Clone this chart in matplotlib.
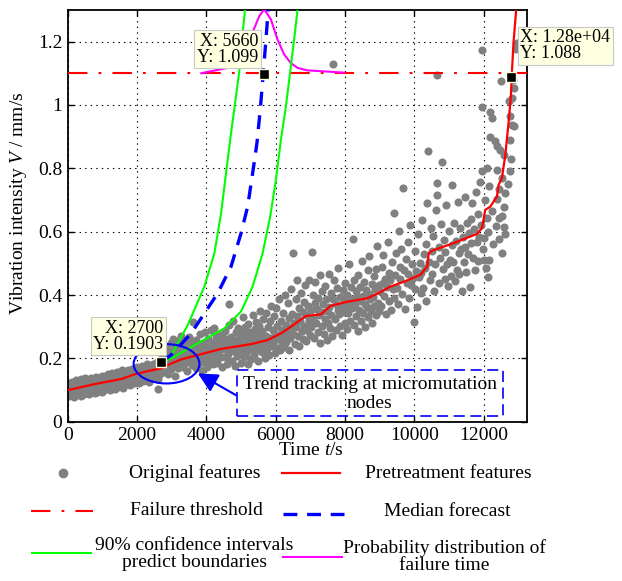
import matplotlib
matplotlib.use('Agg')
import matplotlib.pyplot as plt
from matplotlib.patches import Ellipse, Rectangle
from matplotlib.lines import Line2D
from matplotlib.ticker import FormatStrFormatter

plt.rcParams['font.family'] = ['Liberation Serif', 'DejaVu Serif']
plt.rcParams['font.size'] = 14
plt.rcParams['mathtext.fontset'] = 'custom'
plt.rcParams['mathtext.rm'] = 'Liberation Serif'
plt.rcParams['mathtext.it'] = 'Liberation Serif:italic'
plt.rcParams['lines.scale_dashes'] = False

########## data
# original features, (time, vibration) pairs
orig_a = [(8,.101),(24,.083),(47,.122),(66,.094),(88,.112),(109,.127),(131,.089),(148,.107),(170,.078),(192,.118),
          (205,.097),(226,.131),(251,.086),(268,.114),(287,.103),(311,.122),(329,.092),(352,.109),(374,.134),(395,.081),
          (403,.116),(422,.098),(449,.125),(467,.088),(486,.137),(512,.104),(533,.121),(549,.093),(571,.131),(590,.111),
          (604,.087),(627,.126),(645,.108),(662,.139),(689,.097),(710,.118),(728,.101),(753,.134),(771,.092),(794,.124),
          (806,.142),(821,.109),(847,.095),(866,.129),(883,.116),(912,.103),(934,.137),(951,.121),(973,.094),(989,.146),
          (1007,.112),(1029,.131),(1044,.099),(1068,.143),(1092,.124),(1103,.137),(1127,.106),(1146,.151),(1163,.118),
          (1188,.128),(1211,.099),(1232,.141),(1254,.122),(1271,.153),(1293,.113),(1306,.134),(1324,.117),(1349,.147),
          (1368,.104),(1386,.138),(1409,.126),(1430,.158),(1447,.111),(1469,.143),(1491,.131),(1503,.149),(1522,.119),
          (1546,.137),(1565,.162),(1587,.108),(1612,.141),(1634,.127),(1651,.155),(1674,.118),(1695,.146),(1708,.132),
          (1729,.164),(1745,.123),(1767,.151),(1789,.139),(1803,.117),(1825,.156),(1848,.142),(1866,.168),(1887,.129),
          (1911,.147),(1933,.124),(1954,.161),(1972,.138),(1994,.172),(2006,.133),(2028,.155),(2047,.121),(2069,.169),
          (2088,.146),(2112,.161),(2131,.139),(2153,.177),(2171,.128),(2196,.152),(2207,.144),(2226,.171),(2249,.133),
          (2268,.158),(2285,.182),(2309,.149),(2331,.126),(2352,.166),(2374,.141),(2393,.176),(2406,.158),(2427,.137),
          (2448,.184),(2466,.151),(2489,.169),(2511,.143),(2534,.176),(2552,.161),(2571,.189),(2594,.134),(2603,.105),
          (2626,.171),(2647,.152),(2665,.193),(2688,.164)]

orig_b = [(2714,.181),(2733,.207),(2756,.158),(2775,.226),(2792,.193),(2808,.214),(2831,.172),(2849,.239),(2867,.196),
          (2889,.151),(2903,.227),(2924,.188),(2946,.209),(2968,.166),(2985,.248),(3012,.199),(3031,.262),(3052,.176),
          (3071,.218),(3094,.143),(3106,.234),(3127,.191),(3145,.256),(3168,.207),(3187,.169),(3209,.221),(3228,.183),
          (3254,.271),(3272,.198),(3291,.242),(3314,.174),(3333,.229),(3351,.203),(3369,.257),(3392,.186),(3405,.247),
          (3426,.212),(3448,.161),(3467,.233),(3488,.195),(3511,.268),(3530,.204),(3553,.226),(3575,.179),(3593,.251),
          (3609,.316),(3628,.193),(3647,.238),(3669,.216),(3691,.171),(3713,.259),(3734,.207),(3752,.184),(3771,.241),
          (3795,.223),(3802,.197),(3826,.276),(3847,.232),(3865,.165),(3884,.214),(3913,.249),(3932,.188),(3953,.226),
          (3974,.283),(3996,.205),(4008,.237),(4027,.172),(4049,.261),(4066,.219),(4089,.196),(4104,.228),(4125,.291),
          (4148,.209),(4167,.248),(4186,.181),(4211,.296),(4229,.235),(4250,.199),(4273,.267),(4294,.221),(4306,.186),
          (4328,.253),(4347,.214),(4369,.238),(4391,.275),(4409,.203),(4430,.246),(4452,.172),(4471,.229),(4493,.264)]

orig_c = [(4512,.238),(4531,.287),(4553,.205),(4574,.262),(4592,.181),(4606,.249),(4627,.213),(4648,.305),(4665,.372),
          (4688,.231),(4709,.268),(4728,.192),(4751,.244),(4772,.319),(4790,.224),(4813,.257),(4834,.176),(4852,.283),
          (4871,.236),(4893,.209),(4905,.296),(4926,.248),(4947,.219),(4969,.274),(4988,.187),(5011,.261),(5033,.232),
          (5052,.331),(5074,.206),(5091,.279),(5108,.243),(5129,.298),(5151,.217),(5173,.265),(5194,.182),(5203,.309),
          (5225,.251),(5246,.229),(5268,.284),(5289,.198),(5311,.269),(5334,.238),(5352,.338),(5370,.211),(5393,.292),
          (5409,.256),(5427,.314),(5449,.226),(5471,.277),(5488,.193),(5512,.302),(5533,.245),(5554,.351),(5572,.267),
          (5597,.219),(5606,.285),(5628,.236),(5647,.326),(5669,.258),(5688,.201),(5713,.343),(5731,.272),(5756,.229),
          (5774,.298),(5791,.251),(5809,.211),(5826,.317),(5848,.264),(5869,.366),(5887,.238),(5911,.289),(5933,.247),
          (5952,.334),(5971,.216),(5994,.276),(6005,.358),(6027,.261),(6049,.302),(6068,.232),(6089,.387),(6113,.274),
          (6132,.226),(6154,.319),(6176,.253),(6195,.291),(6208,.342),(6231,.268),(6248,.237),(6267,.401),(6289,.306),
          (6311,.251),(6330,.287),(6352,.376),(6373,.228),(6394,.329),(6405,.296),(6426,.263),(6448,.418),(6487,.532),
          (6471,.341),(6512,.276),(6530,.312),(6553,.246),(6574,.387),(6596,.298),(6607,.448),(6625,.334),(6647,.271),
          (6669,.359),(6688,.239),(6714,.318),(6735,.406),(6753,.287),(6776,.346),(6793,.262),(6807,.377),(6829,.302),
          (6851,.431),(6872,.254),(6890,.337),(6912,.289),(6931,.364),(6954,.318),(6973,.447),(6996,.273)]

orig_d = [(7008,.352),(7029,.298),(7063,.535),(7071,.401),(7092,.327),(7105,.263),(7127,.376),(7149,.441),(7168,.311),
          (7186,.357),(7211,.392),(7230,.284),(7252,.336),(7274,.463),(7293,.249),(7307,.345),(7326,.412),(7348,.302),
          (7369,.371),(7391,.276),(7413,.428),(7432,.325),(7454,.386),(7471,.258),(7495,.351),(7509,.311),(7527,.468),
          (7548,.362),(7570,.297),(7592,.405),(7604,.338),(7626,.271),(7655,1.130),(7667,.387),(7689,.446),(7711,.323),
          (7733,.372),(7750,.291),(7772,.421),(7794,.354),(7806,.486),(7828,.339),(7849,.302),(7871,.395),(7890,.361),
          (7913,.274),(7932,.417),(7953,.348),(7975,.383),(7996,.312),(8004,.437),(8026,.366),(8049,.293),(8068,.401),
          (8087,.342),(8109,.375),(8130,.498),(8151,.318),(8173,.427),(8192,.359),(8214,.386),(8242,.576),(8257,.305),
          (8275,.449),(8294,.371),(8306,.334),(8327,.412),(8348,.396),(8371,.287),(8390,.463),(8413,.352),(8434,.425),
          (8451,.381),(8472,.317),(8494,.507),(8508,.398),(8529,.343),(8547,.441),(8568,.372),(8591,.299),(8611,.417),
          (8632,.362),(8654,.478),(8673,.331),(8695,.404),(8702,.523),(8725,.388),(8746,.351),(8767,.436),(8789,.312),
          (8813,.394),(8831,.459),(8852,.367),(8874,.418),(8893,.336),(8909,.482),(8933,.555),(8948,.376),(8971,.431),
          (8992,.349)]

orig_e = [(9014,.412),(9038,.367),(9063,.488),(9087,.439),(9112,.526),(9136,.398),(9161,.452),(9185,.341),(9209,.427),
          (9233,.568),(9258,.381),(9284,.471),(9308,.446),(9331,.353),(9357,.503),(9382,.418),(9411,.658),(9428,.392),
          (9455,.462),(9478,.532),(9506,.423),(9529,.371),(9553,.602),(9579,.487),(9602,.451),(9627,.546),(9651,.402),
          (9670,.737),(9711,.479),(9733,.357),(9758,.513),(9782,.438),(9806,.569),(9831,.466),(9852,.392),(9879,.621),
          (9903,.431),(9927,.497),(9955,.453),(9987,.316),(10012,.538),(10035,.418),(10061,.476),(10086,.362),
          (10109,.594),(10133,.457),(10158,.502),(10182,.406),(10207,.471),(10231,.638),(10256,.423),(10279,.529),
          (10304,.486),(10328,.381),(10352,.562),(10372,.690),(10400,.855),(10426,.503),(10451,.447),(10477,.611),
          (10502,.538),(10527,.468),(10553,.586),(10576,.412),(10604,.497),(10628,.668),(10660,.753),(10660,.716),
          (10701,.552),(10727,.439),(10752,.517),(10778,.623),(10804,.820),(10826,.481),(10853,.574),(10876,.452),
          (10902,.536),(10925,.683),(10951,.497),(10976,.428),(11003,.602),(11027,.512),(11054,.461),(11079,.558),
          (11091,.748),(11124,.503),(11148,.627),(11173,.443),(11206,.571),(11229,.478),(11253,.695),(11278,.532),
          (11301,.467),(11325,.612),(11351,.545),(11376,.412),(11404,.584),(11428,.503),(11452,.708),(11477,.551),
          (11502,.472),(11526,.627),(11551,.531),(11577,.596),(11603,.425),(11625,.563),(11650,.641),(11667,.690),
          (11706,.518),(11729,.608),(11755,.478),(11781,.724),(11802,.569),(11828,.655),(11852,.507),(11877,.582),
          (11906,.758),(11930,.621),(11955,.995),(11955,1.172),(11960,.790),(11984,.546),(10660,1.095)]

orig_f = [(12012,.581),(12020,.512),(12038,.700),(12063,.486),(12088,.643),(12098,.800),(12120,.458),(12130,.598),
          (12146,.743),(12160,.512),(12194,.979),(12194,.900),(12243,.958),(12250,.664),(12270,.561),(12338,.885),
          (12387,.795),(12360,.617),(12380,.702),(12387,.869),(12482,.858),(12450,.735),(12460,.642),(12440,.576),
          (12510,1.074),(12578,.679),(12531,.532),(12531,.648),(12540,.769),(12578,.616),(12626,.722),(12600,.842),
          (12610,.593),(12741,1.014),(12770,.890),(12700,.752),(12770,.790),(12760,.965),(12818,1.022),(12818,.937),
          (12800,.830),(12866,1.053),(12865,1.080),(12866,.932),(12962,1.196),(12950,1.178)]

# pretreatment features (red curve)
t_pre = [0, 777, 1545, 1928, 2314, 2697, 2985, 3272, 3655, 4424, 5287, 5767, 6055, 6151, 6439, 6870,
         7301, 7589, 8070, 8645, 8933, 9316, 9700, 10180, 10372, 10420, 10516, 11138, 11811, 11955, 12050,
         12194, 12387, 12435, 12531, 12626, 12722, 12790, 12818, 12865, 12942, 12960]
v_pre = [0.100, 0.119, 0.135, 0.150, 0.160, 0.169, 0.184, 0.197, 0.208, 0.230, 0.245, 0.258, 0.274, 0.279,
         0.300, 0.334, 0.339, 0.366, 0.379, 0.390, 0.404, 0.427, 0.442, 0.464, 0.490, 0.532, 0.540, 0.564,
         0.593, 0.611, 0.669, 0.679, 0.711, 0.748, 0.769, 0.840, 0.943, 1.027, 1.101, 1.196, 1.300, 1.330]

threshold = 1.1

# median forecast
t_med = [2700, 2985, 3560, 4329, 4712, 5000, 5191, 5336, 5460, 5555, 5643, 5719, 5785, 5800]
v_med = [0.190, 0.211, 0.279, 0.406, 0.490, 0.595, 0.679, 0.785, 0.880, 0.985, 1.101, 1.206, 1.300, 1.330]

# 90% confidence bounds
t_up = [2700, 2937, 3465, 3943, 4231, 4424, 4568, 4712, 4855, 4950, 5048, 5114, 5125]
v_up = [0.190, 0.200, 0.306, 0.427, 0.532, 0.658, 0.785, 0.911, 1.027, 1.106, 1.227, 1.300, 1.330]
t_low = [2700, 2985, 3753, 4519, 5000, 5336, 5624, 5843, 6007, 6151, 6295, 6439, 6554, 6631, 6650]
v_low = [0.190, 0.200, 0.248, 0.295, 0.348, 0.427, 0.532, 0.648, 0.764, 0.890, 0.995, 1.122, 1.227, 1.300, 1.330]

# probability distribution of failure time (drawn on the threshold)
t_pdf = [3853, 4616, 5000, 5287, 5527, 5670, 5862, 6055, 6247, 6439, 6631, 6919, 7397, 7972]
v_pdf = [1.100, 1.117, 1.159, 1.217, 1.280, 1.302, 1.270, 1.206, 1.159, 1.132, 1.117, 1.109, 1.106, 1.102]

# data tips
tips = [(5660, 1.099, 'X: 5660\nY: 1.099'),
        (2700, 0.1903, 'X: 2700\nY: 0.1903'),
        (12800, 1.088, 'X: 1.28e+04\nY: 1.088')]

gray = '#808080'
red = '#ff0000'
blue = '#0000ff'
green = '#00ff00'
magenta = '#ff00ff'

########## Plotting section
fig = plt.figure(figsize=(6.22, 5.81), dpi=100)
ax = fig.add_axes([0.109, 0.274, 0.738, 0.709])

pts = orig_a + orig_b + orig_c + orig_d + orig_e + orig_f
ax.scatter([p[0] for p in pts], [p[1] for p in pts], s=34, color=gray, linewidths=0, zorder=2)

ax.plot(t_pre, v_pre, color=red, lw=1.6, zorder=3)
ax.axhline(threshold, color=red, lw=1.5, dashes=(14, 8, 2, 8), zorder=3)
ax.plot(t_pdf, v_pdf, color=magenta, lw=1.5, zorder=3)
ax.plot(t_up, v_up, color=green, lw=1.5, zorder=4)
ax.plot(t_low, v_low, color=green, lw=1.5, zorder=4)
ax.plot(t_med, v_med, color=blue, lw=2.4, dashes=(10, 7), zorder=5)

for x, y, s in tips:
    ax.plot(x, y, 's', color='black', mec='#ffffd8', mew=1.0, ms=6.5, zorder=7, clip_on=False)
offs = [((-6, 8), 'right'), ((2, 9), 'right'), ((9, 15), 'left')]
for (x, y, s), (o, ha) in zip(tips, offs):
    ax.annotate(s, xy=(x, y), xytext=o, textcoords='offset pixels', ha=ha, va='bottom', fontsize=13,
                linespacing=0.9, annotation_clip=False, zorder=8,
                bbox=dict(boxstyle='square,pad=0.15', fc='#ffffe1', ec='#c8c8c8', lw=0.8))

# micromutation annotation
ax.add_patch(Ellipse((2850, 0.183), 1900, 0.124, fill=False, ec=blue, lw=1.5, zorder=6))
ax.annotate('', xy=(3753, 0.153), xytext=(4855, 0.084),
            arrowprops=dict(arrowstyle='-|>,head_length=0.8,head_width=0.4', color=blue, lw=1.5,
                            mutation_scale=15, shrinkA=0, shrinkB=0), zorder=6)
ax.add_patch(Rectangle((4884, 0.018), 12560 - 4884, 0.163 - 0.018, fill=False, ec=blue, lw=1.2,
                       ls=(0, (8, 4)), zorder=6))
ax.text(8721, 0.0875, 'Trend tracking at micromutation\nnodes', ha='center', va='center',
        linespacing=1.15, zorder=6)

ax.set_xlim(0, 13250)
ax.set_ylim(0, 1.3)
ax.set_xticks([0, 2000, 4000, 6000, 8000, 10000, 12000])
ax.set_yticks([0, 0.2, 0.4, 0.6, 0.8, 1.0, 1.2])
ax.yaxis.set_major_formatter(FormatStrFormatter('%g'))
ax.tick_params(direction='in', top=True, right=True, length=4, width=1, pad=4)
ax.grid(True, color='black', lw=0.8, ls=(0, (1, 3)))
for sp in ax.spines.values():
    sp.set_linewidth(1.3)

ax.set_xlabel(r'Time $t$/s')
ax.xaxis.set_label_coords(0.53, -0.05)
ax.set_ylabel(r'Vibration intensity $V$ / mm/s')
ax.yaxis.set_label_coords(-0.085, 0.53)

# legend, laid out like the MATLAB one (centred text)
def fx(px):
    return px / 622.0

def fy(py):
    return 1 - py / 581.0

fig.add_artist(Line2D([fx(62.7)], [fy(473.3)], marker='o', ms=6, color=gray, ls='none'))
fig.text(fx(195), fy(473.3), 'Original features', ha='center', va='center')
fig.add_artist(Line2D([fx(281.7), fx(340.3)], [fy(473.3)] * 2, color=red, lw=1.6))
fig.text(fx(448.7), fy(473.3), 'Pretreatment features', ha='center', va='center')

fig.add_artist(Line2D([fx(30.7), fx(92.7)], [fy(510.5)] * 2, color=red, lw=1.5, dashes=(14, 8, 2, 8)))
fig.text(fx(196.7), fy(510.5), 'Failure threshold', ha='center', va='center')
fig.add_artist(Line2D([fx(282.7), fx(344.3)], [fy(513.5)] * 2, color=blue, lw=2.4, dashes=(10, 7)))
fig.text(fx(447), fy(511.5), 'Median forecast', ha='center', va='center')

fig.add_artist(Line2D([fx(31.7), fx(90.7)], [fy(553.3)] * 2, color=green, lw=1.5))
fig.text(fx(194), fy(554), '90% confidence intervals\npredict boundaries', ha='center', va='center',
         linespacing=0.95)
fig.add_artist(Line2D([fx(282.7), fx(342)], [fy(557.3)] * 2, color=magenta, lw=1.5))
fig.text(fx(444), fy(556.7), 'Probability distribution of\nfailure time', ha='center', va='center',
         linespacing=0.95)

plt.savefig('out.png', dpi=100)
